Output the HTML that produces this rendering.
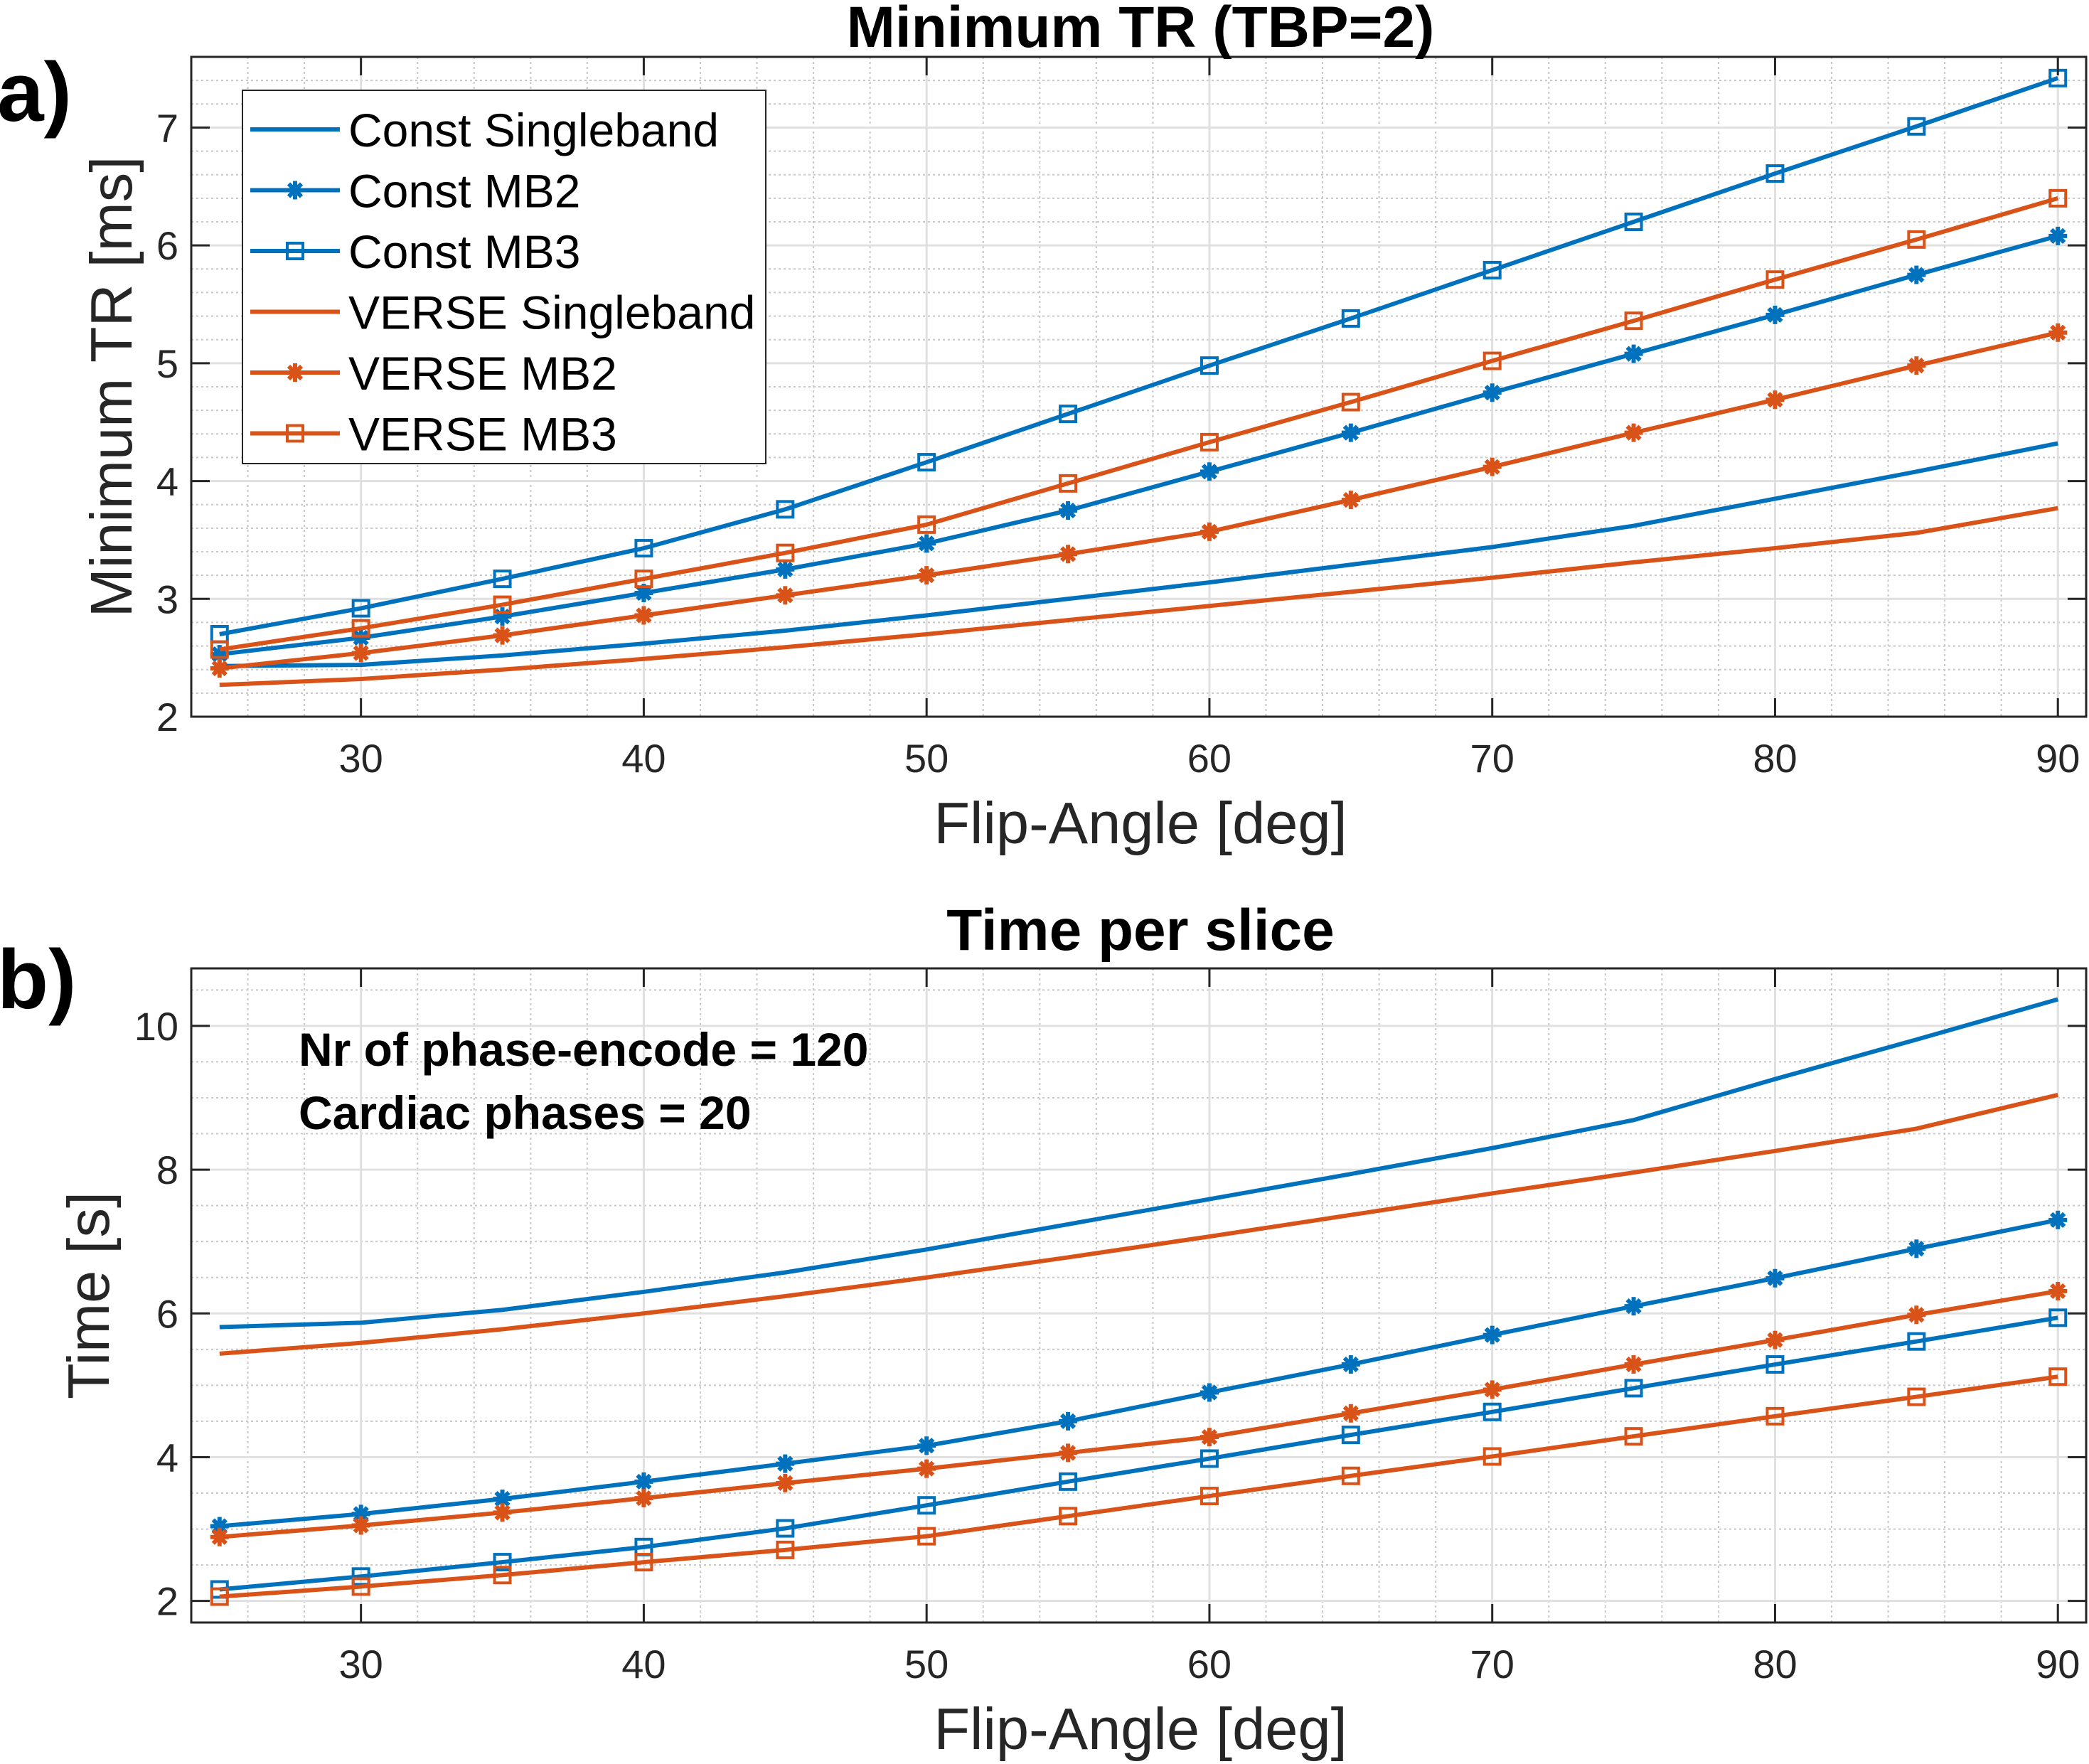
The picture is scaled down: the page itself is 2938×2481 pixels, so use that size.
<!DOCTYPE html>
<html><head><meta charset="utf-8"><style>
html,body{margin:0;padding:0;background:#fff;}
svg{display:block;font-family:"Liberation Sans",Arial,sans-serif;}
</style></head><body>
<svg id="fig" width="2938" height="2481" viewBox="0 0 2938 2481" xmlns="http://www.w3.org/2000/svg"></svg>
<script>
const flipAngles=[25,30,35,40,45,50,55,60,65,70,75,80,85,90];
const xTicks=[30,40,50,60,70,80,90];
const trConstSB=[2.43,2.44,2.52,2.62,2.73,2.86,3.0,3.14,3.29,3.44,3.62,3.85,4.08,4.32];
const trConstMB2=[2.53,2.67,2.85,3.05,3.25,3.47,3.75,4.08,4.41,4.75,5.08,5.41,5.75,6.08];
const trConstMB3=[2.70,2.92,3.17,3.43,3.76,4.16,4.57,4.98,5.38,5.79,6.20,6.61,7.01,7.42];
const trVerseSB=[2.27,2.32,2.40,2.49,2.59,2.70,2.82,2.94,3.06,3.18,3.31,3.43,3.56,3.77];
const trVerseMB2=[2.41,2.54,2.69,2.86,3.03,3.20,3.38,3.57,3.84,4.12,4.41,4.69,4.98,5.26];
const trVerseMB3=[2.57,2.75,2.95,3.17,3.39,3.63,3.98,4.33,4.67,5.02,5.36,5.71,6.05,6.40];
const trYTicks=[2,3,4,5,6,7];
const tConstSB=[5.81,5.87,6.05,6.30,6.57,6.89,7.24,7.59,7.94,8.30,8.69,9.26,9.81,10.37];
const tVerseSB=[5.44,5.59,5.78,6.00,6.24,6.50,6.78,7.07,7.37,7.67,7.96,8.26,8.57,9.04];
const tConstMB2=[3.04,3.21,3.42,3.66,3.91,4.16,4.50,4.90,5.29,5.70,6.10,6.49,6.90,7.30];
const tVerseMB2=[2.89,3.05,3.23,3.43,3.64,3.84,4.06,4.28,4.61,4.94,5.29,5.63,5.98,6.31];
const tConstMB3=[2.16,2.34,2.54,2.75,3.01,3.33,3.66,3.98,4.31,4.63,4.96,5.29,5.61,5.94];
const tVerseMB3=[2.06,2.20,2.36,2.54,2.71,2.90,3.18,3.46,3.74,4.01,4.29,4.57,4.84,5.12];
const tYTicks=[2,4,6,8,10];
const legendLabels=["Const Singleband","Const MB2","Const MB3","VERSE Singleband","VERSE MB2","VERSE MB3"];

const NS="http://www.w3.org/2000/svg";
const svg=document.getElementById('fig');
const BLUE="#0072BD",RED="#D95319";
function mk(tag,attrs,parent,text){const e=document.createElementNS(NS,tag);for(const k in attrs)e.setAttribute(k,attrs[k]);if(text!==undefined)e.textContent=text;(parent||svg).appendChild(e);return e;}

function marker(g,type,x,y,color){
  if(type==='sq'){const m=mk('rect',{x:x-11,y:y-11,width:22,height:22,fill:'none',stroke:color,'stroke-width':4},g);
    }
  else if(type==='st'){const m=mk('g',{stroke:color,'stroke-width':6},g);
    
    const r=13;mk('line',{x1:x-r,y1:y,x2:x+r,y2:y},m);mk('line',{x1:x,y1:y-r,x2:x,y2:y+r},m);
    mk('line',{x1:x-9,y1:y-9,x2:x+9,y2:y+9},m);mk('line',{x1:x-9,y1:y+9,x2:x+9,y2:y-9},m);}
}

function panel(o){
  const L=269,R=2934,T=o.top,B=o.bottom;
  const xs=v=>L+(v-24)/(91-24)*(R-L);
  const ys=v=>B-(v-o.ymin)/(o.ymax-o.ymin)*(B-T);
  const g=mk('g',{});
  mk('rect',{x:L,y:T,width:R-L,height:B-T,fill:'#fff'},g);
  const grid=mk('g',{},g);
  for(let v=24;v<=91;v+=2){if(v%10===0)continue;mk('line',{x1:xs(v),y1:T,x2:xs(v),y2:B,stroke:'#c8c8c8','stroke-width':2,'stroke-dasharray':'3,4'},grid);}
  for(let k=Math.ceil(o.ymin/o.minor);k*o.minor<=o.ymax;k++){const v=k*o.minor;if(Math.abs(v/o.major-Math.round(v/o.major))<1e-6)continue;
    mk('line',{x1:L,y1:ys(v),x2:R,y2:ys(v),stroke:'#c8c8c8','stroke-width':2,'stroke-dasharray':'3,4'},grid);}
  xTicks.forEach(v=>mk('line',{x1:xs(v),y1:T,x2:xs(v),y2:B,stroke:'#e0e0e0','stroke-width':3},grid));
  o.yticks.forEach(v=>mk('line',{x1:L,y1:ys(v),x2:R,y2:ys(v),stroke:'#e0e0e0','stroke-width':3},grid));
  o.series.forEach(s=>{
    const sg=mk('g',{},g);
    const p=mk('polyline',{points:flipAngles.map((a,i)=>xs(a)+','+ys(s.data[i])).join(' '),fill:'none',stroke:s.color,'stroke-width':6,'stroke-linejoin':'round'},sg);
    
    if(s.m)flipAngles.forEach((a,i)=>marker(sg,s.m,xs(a),ys(s.data[i]),s.color));
  });
  mk('rect',{x:L,y:T,width:R-L,height:B-T,fill:'none',stroke:'#262626','stroke-width':3},g);
  const tk=mk('g',{stroke:'#262626','stroke-width':3},g);
  xTicks.forEach(v=>{mk('line',{x1:xs(v),y1:B,x2:xs(v),y2:B-26},tk);mk('line',{x1:xs(v),y1:T,x2:xs(v),y2:T+26},tk);});
  o.yticks.forEach(v=>{mk('line',{x1:L,y1:ys(v),x2:L+26,y2:ys(v)},tk);mk('line',{x1:R,y1:ys(v),x2:R-26,y2:ys(v)},tk);});
  xTicks.forEach(v=>{const t=mk('text',{x:xs(v),y:B+78,'font-size':56,'text-anchor':'middle',fill:'#262626'},g,String(v));
    });
  o.yticks.forEach(v=>{const t=mk('text',{x:L-18,y:ys(v)+20,'font-size':56,'text-anchor':'end',fill:'#262626'},g,String(v));
    });
  const xl=mk('text',{x:1604,y:B+178,'font-size':83,'text-anchor':'middle',fill:'#262626'},g,'Flip-Angle [deg]');
  
  const yl=mk('text',{x:0,y:0,'font-size':83,'text-anchor':'middle',fill:'#262626',transform:`translate(${o.ylx},${(T+B)/2}) rotate(-90)`},g,o.ylabel);
  
  const ti=mk('text',{x:1604,y:T-o.tOff,'font-size':82,'font-weight':'bold','text-anchor':'middle',fill:'#000'},g,o.title);
  
  const pl=mk('text',{x:-4,y:o.ply,'font-size':118,'font-weight':'bold',fill:'#000'},g,o.pl);
  
  return g;
}

panel({name:'panel-a',top:80,bottom:1008,ymin:2,ymax:7.6,major:1,minor:0.2,yticks:trYTicks,ylx:185,tOff:14,
  ylabel:'Minimum TR [ms]',title:'Minimum TR (TBP=2)',pl:'a)',ply:170,
  series:[{name:'const-singleband',data:trConstSB,color:BLUE},{name:'const-mb2',data:trConstMB2,color:BLUE,m:'st'},
  {name:'const-mb3',data:trConstMB3,color:BLUE,m:'sq'},{name:'verse-singleband',data:trVerseSB,color:RED},
  {name:'verse-mb2',data:trVerseMB2,color:RED,m:'st'},{name:'verse-mb3',data:trVerseMB3,color:RED,m:'sq'}]});

panel({name:'panel-b',top:1362,bottom:2282,ymin:1.7,ymax:10.8,major:2,minor:0.5,yticks:tYTicks,ylx:153,tOff:26,
  ylabel:'Time [s]',title:'Time per slice',pl:'b)',ply:1418,
  series:[{name:'const-singleband',data:tConstSB,color:BLUE},{name:'verse-singleband',data:tVerseSB,color:RED},
  {name:'const-mb2',data:tConstMB2,color:BLUE,m:'st'},{name:'verse-mb2',data:tVerseMB2,color:RED,m:'st'},
  {name:'const-mb3',data:tConstMB3,color:BLUE,m:'sq'},{name:'verse-mb3',data:tVerseMB3,color:RED,m:'sq'}]});

const lg=mk('g',{});
mk('rect',{x:341,y:127,width:736,height:525,fill:'#fff',stroke:'#262626','stroke-width':2},lg);
const legendStyles=[[BLUE,null],[BLUE,'st'],[BLUE,'sq'],[RED,null],[RED,'st'],[RED,'sq']];
legendLabels.forEach((lab,i)=>{
  const y=182+i*85.5;
  const e=mk('g',{},lg);
  mk('line',{x1:352,y1:y,x2:478,y2:y,stroke:legendStyles[i][0],'stroke-width':6},e);
  if(legendStyles[i][1])marker(e,legendStyles[i][1],415,y,legendStyles[i][0]);
  mk('text',{x:490,y:y+24,'font-size':66,fill:'#000'},e,lab);
});

const an=mk('g',{'font-size':66,'font-weight':'bold',fill:'#000'});
mk('text',{x:420,y:1499},an,'Nr of phase-encode = 120');
mk('text',{x:420,y:1588},an,'Cardiac phases = 20');
</script>
</body></html>
